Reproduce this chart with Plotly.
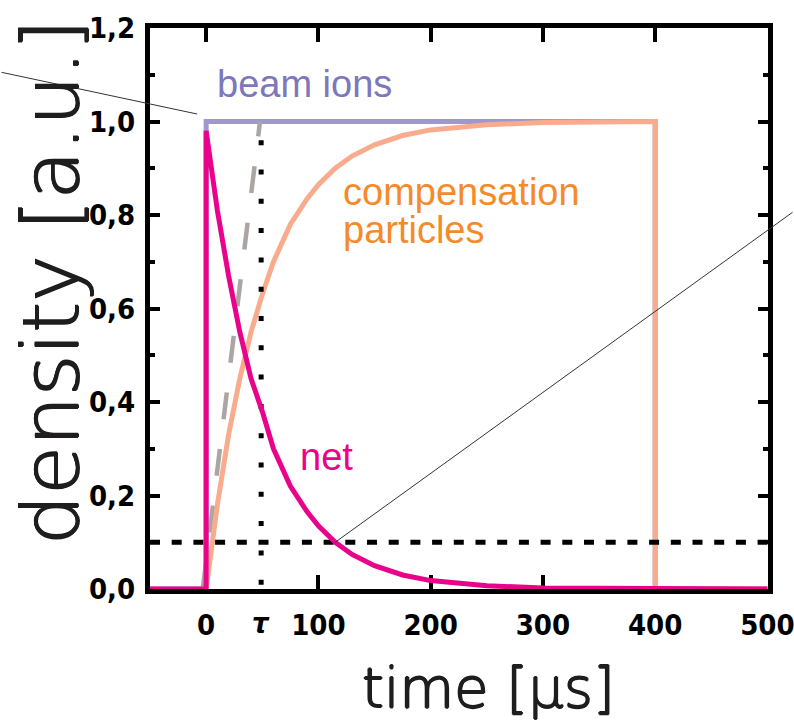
import plotly.graph_objects as go

# --- data -----------------------------------------------------------------
tau = 49                      # time constant [µs]
beam_t = [-50, 0, 0, 400, 400, 500]
beam_n = [0, 0, 1.0, 1.0, 0, 0]

comp_t = [0, 5, 10, 20, 30, 40, 50, 60, 75, 90, 100, 115, 130, 150, 175, 200,
          250, 300, 350, 400, 400, 500]
comp_n = [0, 0.09, 0.18, 0.33, 0.45, 0.55, 0.63, 0.70, 0.78, 0.835, 0.865, 0.90,
          0.926, 0.95, 0.97, 0.982, 0.993, 0.998, 0.999, 1.0, 0, 0]

net_t = [-50, 0, 0, 5, 10, 20, 30, 40, 50, 60, 75, 90, 100, 115, 130, 150, 175,
         200, 250, 300, 350, 400, 500]
net_n = [0, 0, 0.98, 0.89, 0.81, 0.67, 0.55, 0.45, 0.38, 0.30, 0.22, 0.165, 0.135,
         0.10, 0.074, 0.05, 0.03, 0.018, 0.007, 0.002, 0.001, 0, 0]

tangent_t = [-3, 48]
tangent_n = [0, 1.0]

tau_line_n = [0.96, 0]
level_n = 0.1
level_cross_t = 115

x_tick_vals = [0, 100, 200, 300, 400, 500]
x_tick_text = ["0", "100", "200", "300", "400", "500"]
y_tick_vals = [0, 0.2, 0.4, 0.6, 0.8, 1.0, 1.2]
y_tick_text = ["0,0", "0,2", "0,4", "0,6", "0,8", "1,0", "1,2"]
y_minor_vals = [0.1, 0.3, 0.5, 0.7, 0.9, 1.1]

# --- styles ---------------------------------------------------------------
LAVENDER = "#9e98cb"
LAVENDER_TXT = "#7d77bc"
SALMON = "#f9ab8e"
ORANGE_TXT = "#f58a2a"
MAGENTA = "#e8038a"
GREY = "#aba6a3"
TITLE_INK = "#1f1d1e"
TICK_FONT = dict(family="Liberation Sans Narrow, DejaVu Sans Condensed, sans-serif",
                 size=29, color="black", weight="bold")
LABEL_FONT = "Liberation Sans, Arial, sans-serif"
TITLE_FONT = "DejaVu Sans, Open Sans, sans-serif"
# slightly thicken the extra-light title strokes
TITLE_SHADOW = (f"0.9px 0 0 {TITLE_INK}, -0.9px 0 0 {TITLE_INK}, "
                f"0 0.9px 0 {TITLE_INK}, 0 -0.9px 0 {TITLE_INK}")

fig = go.Figure()

fig.add_trace(go.Scatter(x=beam_t, y=beam_n, mode="lines",
                         line=dict(color=LAVENDER, width=5), hoverinfo="skip"))
fig.add_trace(go.Scatter(x=tangent_t, y=tangent_n, mode="lines",
                         line=dict(color=GREY, width=4.5, dash="27px,30px"),
                         hoverinfo="skip"))
fig.add_trace(go.Scatter(x=comp_t, y=comp_n, mode="lines",
                         line=dict(color=SALMON, width=5), hoverinfo="skip"))
fig.add_trace(go.Scatter(x=[tau, tau], y=tau_line_n, mode="lines",
                         line=dict(color="black", width=5, dash="5px,24.3px"),
                         hoverinfo="skip"))
fig.add_trace(go.Scatter(x=[-50, 500], y=[level_n, level_n], mode="lines",
                         line=dict(color="black", width=5, dash="10px,11.7px"),
                         hoverinfo="skip"))
fig.add_trace(go.Scatter(x=net_t, y=net_n, mode="lines",
                         line=dict(color=MAGENTA, width=5), hoverinfo="skip"))

axis_common = dict(showgrid=False, zeroline=False, showline=True, linecolor="black",
                   linewidth=5, mirror="allticks", ticks="inside", tickwidth=4,
                   tickcolor="black", tickfont=TICK_FONT, layer="below traces",
                   tickmode="array", ticklabeloverflow="allow", automargin=False)

fig.update_xaxes(range=[-50, 500.5], tickvals=x_tick_vals, ticktext=x_tick_text,
                 ticklen=14, ticklabelstandoff=6, **axis_common)
fig.update_yaxes(range=[0, 1.2], tickvals=y_tick_vals, ticktext=y_tick_text,
                 ticklen=10, ticklabelstandoff=4,
                 minor=dict(ticks="inside", ticklen=5, tickwidth=4,
                            tickcolor="black", tickvals=y_minor_vals),
                 **axis_common)

annotations = [
    # curve labels
    dict(x=8, y=1.080, xref="x", yref="y", text="beam ions", showarrow=False,
         xanchor="left", yanchor="middle",
         font=dict(family=LABEL_FONT, size=38, color=LAVENDER_TXT)),
    dict(x=120, y=0.849, xref="x", yref="y", text="compensation", showarrow=False,
         xanchor="left", yanchor="middle",
         font=dict(family=LABEL_FONT, size=38, color=ORANGE_TXT)),
    dict(x=120, y=0.768, xref="x", yref="y", text="particles", showarrow=False,
         xanchor="left", yanchor="middle",
         font=dict(family=LABEL_FONT, size=38, color=ORANGE_TXT)),
    dict(x=82, y=0.282, xref="x", yref="y", text="net", showarrow=False,
         xanchor="left", yanchor="middle",
         font=dict(family=LABEL_FONT, size=38, color=MAGENTA)),
    # tau tick label
    dict(x=tau, y=-0.06, xref="x", yref="paper", text="<i>τ</i>", showarrow=False,
         xanchor="center", yanchor="middle", font=TICK_FONT),
    # leader lines
    dict(x=-8, y=1.016, xref="x", yref="y", text="", showarrow=True, arrowhead=0,
         arrowwidth=1, arrowcolor="#333333", ax=-197, ay=-42, standoff=0),
    dict(x=level_cross_t, y=level_n, xref="x", yref="y", text="", showarrow=True,
         arrowhead=0, arrowwidth=1, arrowcolor="#333333", ax=459, ay=-331,
         standoff=0),
    # axis titles
    dict(x=0.5485, y=-0.1747, xref="paper", yref="paper", text="time [µs]",
         showarrow=False, xanchor="center", yanchor="middle",
         font=dict(family=TITLE_FONT, size=56, color=TITLE_INK, weight=200,
                   shadow=TITLE_SHADOW)),
    dict(x=-0.16, y=0.546, xref="paper", yref="paper", text="density [a.u.]",
         showarrow=False, xanchor="center", yanchor="middle", textangle=-90,
         font=dict(family=TITLE_FONT, size=79, color=TITLE_INK, weight=200,
                   shadow=TITLE_SHADOW)),
]

fig.update_layout(
    width=794, height=721,
    margin=dict(l=150, r=26, t=28, b=132),
    paper_bgcolor="white", plot_bgcolor="white",
    showlegend=False,
    annotations=annotations,
)

fig.write_html("out.html")
